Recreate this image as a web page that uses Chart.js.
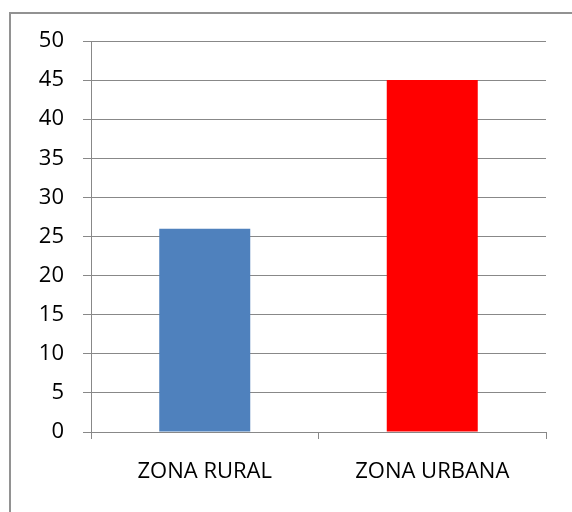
<!DOCTYPE html>
<html>
<head>
<meta charset="utf-8">
<script src="https://cdn.jsdelivr.net/npm/chart.js@4"></script>
<style>
  html, body { margin: 0; padding: 0; background: #fff; overflow: hidden; }
  #wrap { position: relative; width: 572px; height: 512px; }
  #frame { position: absolute; left: 9px; top: 12px; width: 600px; height: 600px;
           border: 2px solid #929292; box-sizing: border-box; }
  canvas { position: absolute; left: 0; top: 0; }
</style>
</head>
<body>
<div id="wrap">
  <div id="frame"></div>
  <canvas id="grafico" width="572" height="512"></canvas>
</div>
<script>
// dados do gráfico
const categorias = ['ZONA RURAL', 'ZONA URBANA'];
const valores = [26, 45];
const cores = ['#4F81BD', '#FF0000'];
const yMin = 0;
const yMax = 50;
const yPasso = 5;

const gridColor = '#888888';

const ctx = document.getElementById('grafico').getContext('2d');

new Chart(ctx, {
  type: 'bar',
  data: {
    labels: categorias,
    datasets: [{
      data: valores,
      backgroundColor: cores,
      borderWidth: 0,
      categoryPercentage: 0.8,
      barPercentage: 0.5
    }]
  },
  options: {
    responsive: false,
    animation: false,
    devicePixelRatio: 1,
    layout: { padding: { left: 0, right: 26, top: 41, bottom: 0 } },
    plugins: {
      legend: { display: false },
      tooltip: { enabled: false }
    },
    scales: {
      x: {
        afterFit: function(scale) { scale.height = 80; },
        grid: {
          display: true,
          drawOnChartArea: false,
          drawTicks: true,
          tickLength: 7,
          color: gridColor,
          lineWidth: 1
        },
        border: { display: true, color: gridColor, width: 1 },
        ticks: {
          color: '#000',
          padding: 20,
          font: { family: 'Open Sans', size: 22 }
        }
      },
      y: {
        min: yMin,
        max: yMax,
        afterFit: function(scale) { scale.width = 91; },
        grid: {
          color: gridColor,
          lineWidth: 1,
          drawTicks: true,
          tickLength: 8
        },
        border: { display: true, color: gridColor, width: 1 },
        ticks: {
          stepSize: yPasso,
          color: '#000',
          padding: 19,
          font: { family: 'Open Sans', size: 22 }
        }
      }
    }
  }
});
</script>
</body>
</html>
